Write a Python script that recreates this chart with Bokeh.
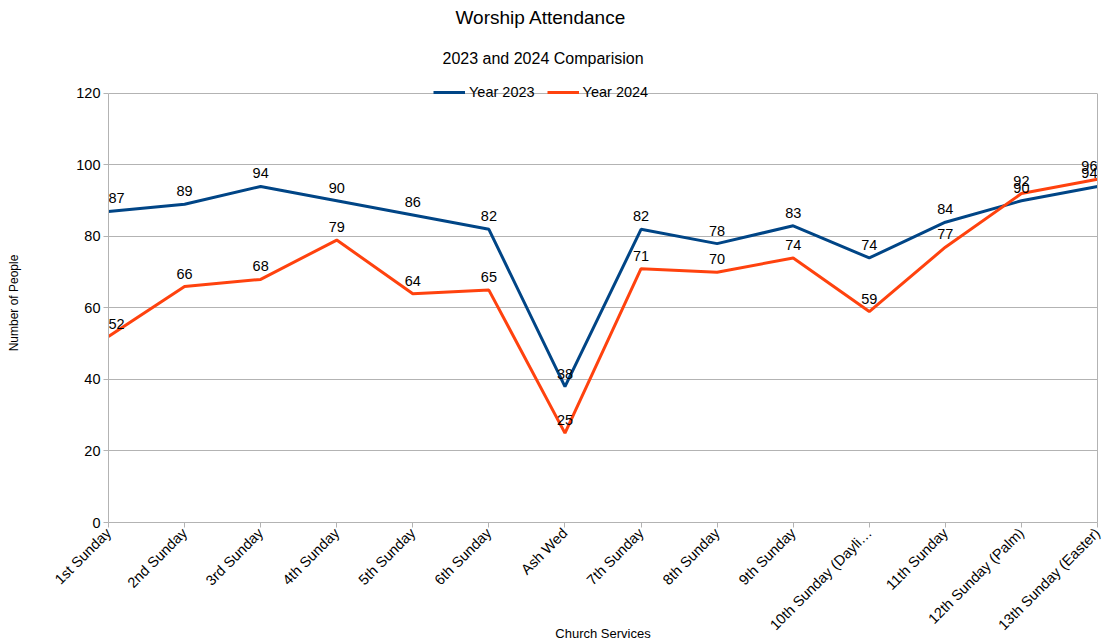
import math
from bokeh.plotting import figure
from bokeh.models import (ColumnDataSource, Range1d, FixedTicker, Legend, LegendItem,
                          Title, LinearAxis)
from bokeh.core.properties import value
from bokeh.embed import file_html
from bokeh.resources import INLINE

categories = ["1st Sunday", "2nd Sunday", "3rd Sunday", "4th Sunday", "5th Sunday",
              "6th Sunday", "Ash Wed", "7th Sunday", "8th Sunday", "9th Sunday",
              "10th Sunday (Dayli\u2026", "11th Sunday", "12th Sunday (Palm)",
              "13th Sunday (Easter)"]
year_2023 = [87, 89, 94, 90, 86, 82, 38, 82, 78, 83, 74, 84, 90, 94]
year_2024 = [52, 66, 68, 79, 64, 65, 25, 71, 70, 74, 59, 77, 92, 96]
y_ticks = [0, 20, 40, 60, 80, 100, 120]

FONT = "Liberation Sans"
C23 = "#004586"
C24 = "#ff420e"
GRID = "#b3b3b3"

n = len(categories)
xs = list(range(n))
aligns = ["left"] + ["center"] * (n - 2) + ["right"]
src = ColumnDataSource(dict(x=xs, y23=year_2023, y24=year_2024,
                            t23=[str(v) for v in year_2023],
                            t24=[str(v) for v in year_2024],
                            al=aligns))

y_max = max(y_ticks)
# a little headroom above the top gridline so the legend can sit on it
y_top = y_max * 440.0 / 430.0

p = figure(width=1108, height=644, output_backend="svg", toolbar_location=None, title=None,
           x_range=Range1d(0, n - 1), y_range=Range1d(0, y_top),
           min_border_left=108, min_border_right=11, min_border_top=82, min_border_bottom=122)

r23 = p.line("x", "y23", source=src, line_color=C23, line_width=3)
r24 = p.line("x", "y24", source=src, line_color=C24, line_width=3)

for ycol, tcol in (("y23", "t23"), ("y24", "t24")):
    p.text("x", ycol, text=tcol, source=src,
           text_font=value(FONT), text_font_size="14.5px", text_color="#000000",
           text_align="al", text_baseline="bottom", y_offset=-8)

# axes
p.xaxis.ticker = FixedTicker(ticks=xs)
p.xaxis.major_label_overrides = {i: c for i, c in enumerate(categories)}
p.xaxis.major_label_orientation = math.pi / 4
p.yaxis.ticker = FixedTicker(ticks=y_ticks)
p.yaxis.bounds = (0, y_max)
for ax in (p.xaxis, p.yaxis):
    ax.axis_line_color = GRID
    ax.axis_line_width = 1
    ax.major_tick_line_color = GRID
    ax.major_tick_in = 0
    ax.major_tick_out = 5
    ax.minor_tick_line_color = None
    ax.major_label_text_font = FONT
    ax.major_label_text_font_size = "14.5px"
    ax.major_label_text_color = "#000000"
    ax.major_label_standoff = 3
    ax.axis_label_text_font = FONT
    ax.axis_label_text_font_style = "normal"
    ax.axis_label_text_color = "#000000"

p.xaxis.axis_label = "Church Services"
p.xaxis.axis_label_text_font_size = "13px"
p.xaxis.axis_label_standoff = -16
p.yaxis.axis_label = "Number of People"
p.yaxis.axis_label_text_font_size = "12px"
p.yaxis.axis_label_standoff = 52

# right border of the plot area
right_axis = LinearAxis(ticker=FixedTicker(ticks=[]), bounds=(0, y_max),
                        axis_line_color=GRID, major_tick_line_color=None,
                        minor_tick_line_color=None, major_label_text_font_size="0px")
p.add_layout(right_axis, "right")

p.xgrid.grid_line_color = None
p.ygrid.ticker = FixedTicker(ticks=y_ticks)
p.ygrid.grid_line_color = GRID
p.outline_line_color = None

legend = Legend(items=[LegendItem(label="Year 2023", renderers=[r23]),
                       LegendItem(label="Year 2024", renderers=[r24])],
                orientation="horizontal", location=(325, 422),
                glyph_width=32, glyph_height=16, label_height=16, label_standoff=4,
                spacing=12, padding=0, margin=0, border_line_alpha=0, background_fill_alpha=0,
                label_text_font=FONT, label_text_font_size="14.5px", label_text_color="#000000",
                label_text_baseline="middle")
p.add_layout(legend, "center")

p.add_layout(Title(text="2023 and 2024 Comparision", align="left", offset=334, text_font=FONT,
                   text_font_size="16px", text_font_style="normal", text_color="#000000",
                   standoff=33), "above")
p.add_layout(Title(text="Worship Attendance", align="left", offset=347, text_font=FONT,
                   text_font_size="19px", text_font_style="normal", text_color="#000000",
                   standoff=8), "above")

open("out.html", "w").write(file_html(p, INLINE))
